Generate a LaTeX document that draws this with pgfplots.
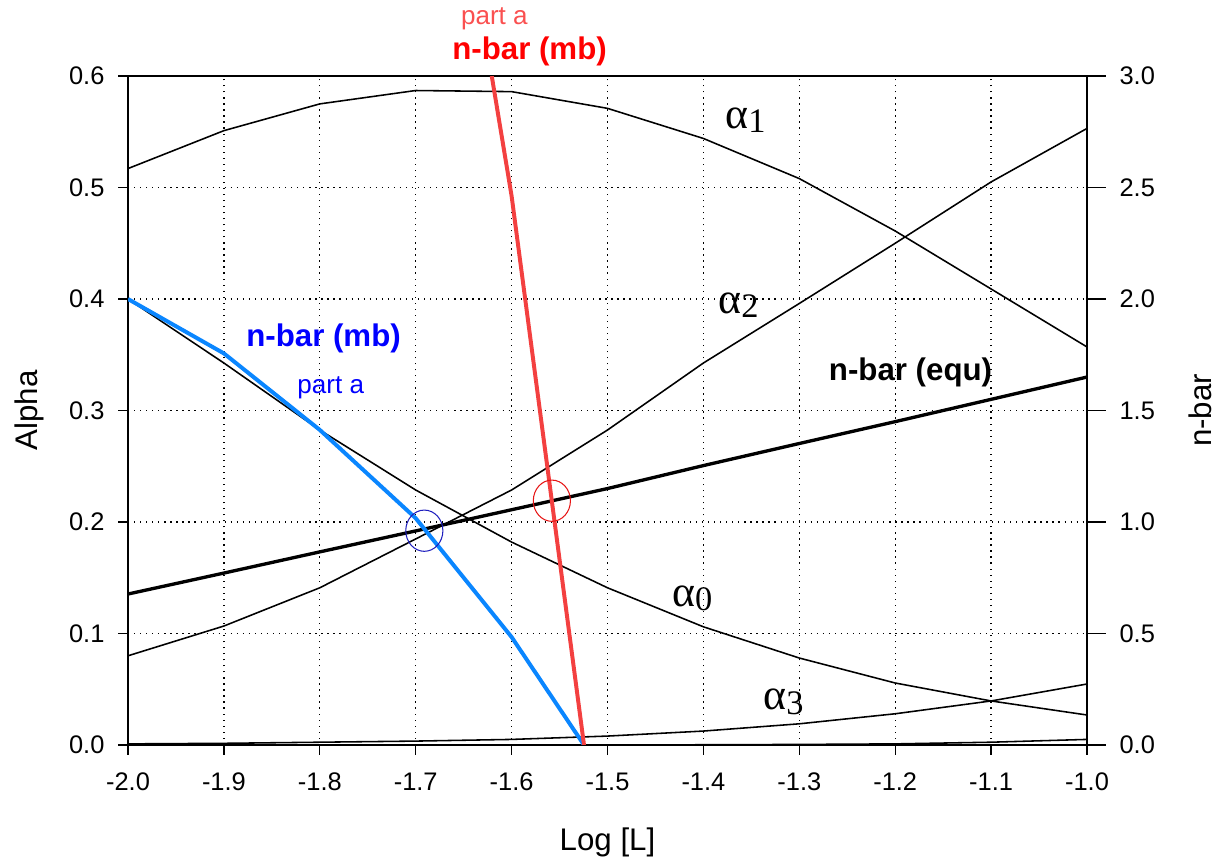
\documentclass[border=0pt]{standalone}
\usepackage{fontspec}
\setmainfont{Liberation Sans}
\newfontfamily\greekfont{Liberation Serif}
\usepackage{pgfplots}
\pgfplotsset{compat=1.18}

\definecolor{redline}{RGB}{243,64,64}
\definecolor{blueline}{RGB}{10,134,255}
\definecolor{bluetext}{RGB}{0,0,255}
\definecolor{navycirc}{RGB}{30,30,190}
\definecolor{redcirc}{RGB}{230,20,20}
\definecolor{redpart}{RGB}{250,80,80}

% 1 px of the reference = 0.48pt
\newcommand{\alab}[1]{{\greekfont\fontsize{21}{21}\selectfont α\raisebox{-2pt}{\fontsize{16.5}{16.5}\selectfont #1}}}

\pgfplotsset{
  common/.style={
    scale only axis, width=460.3pt, height=321.1pt,
    xmin=-2, xmax=-1,
    tick align=outside,
    tick style={black, line width=0.6pt},
    axis line style={line width=0.6pt},
    tick label style={font=\fontsize{12.2}{14}\selectfont},
    label style={font=\fontsize{15}{18}\selectfont},
    /pgf/number format/fixed,
    /pgf/number format/fixed zerofill,
    /pgf/number format/precision=1,
    /pgf/number format/assume math mode=true,
  },
}

\begin{document}
\begin{tikzpicture}
\begin{axis}[
  common,
  ymin=0, ymax=0.6,
  xtick={-2.0,-1.9,-1.8,-1.7,-1.6,-1.5,-1.4,-1.3,-1.2,-1.1,-1.0},
  ytick={0,0.1,0.2,0.3,0.4,0.5,0.6},
  xtick pos=bottom, ytick pos=left,
  major tick length=4.8pt,
  xticklabel style={yshift=-5pt},
  yticklabel style={xshift=-3pt},
  grid=major,
  major grid style={black, line width=0.6pt, dash pattern=on 0.6pt off 2.3pt},
  xlabel={Log [L]}, ylabel={Alpha},
  xlabel style={at={(axis description cs:0.5,-0.146)}, anchor=center},
  ylabel style={at={(axis description cs:-0.1027,0.5)}, anchor=center},
  clip=false,
]
  % alpha 1
  \addplot[black, line width=0.75pt] coordinates {
    (-2.0,0.517) (-1.9,0.551) (-1.8,0.575) (-1.7,0.587) (-1.6,0.586)
    (-1.5,0.571) (-1.4,0.544) (-1.3,0.508) (-1.2,0.461) (-1.1,0.409) (-1.0,0.357)
  };
  % alpha 2
  \addplot[black, line width=0.75pt] coordinates {
    (-2.0,0.080) (-1.9,0.1067) (-1.8,0.141) (-1.7,0.1848) (-1.6,0.2287)
    (-1.5,0.2825) (-1.4,0.3426) (-1.3,0.396) (-1.2,0.450) (-1.1,0.505) (-1.0,0.553)
  };
  % alpha 0
  \addplot[black, line width=0.75pt] coordinates {
    (-2.0,0.400) (-1.9,0.3426) (-1.8,0.2825) (-1.7,0.2287) (-1.6,0.182)
    (-1.5,0.141) (-1.4,0.106) (-1.3,0.078) (-1.2,0.0556) (-1.1,0.0395) (-1.0,0.0269)
  };
  % alpha 3
  \addplot[black, line width=0.75pt] coordinates {
    (-2.0,0.001) (-1.9,0.0015) (-1.8,0.0025) (-1.7,0.0035) (-1.6,0.005)
    (-1.5,0.008) (-1.4,0.0125) (-1.3,0.019) (-1.2,0.028) (-1.1,0.0395) (-1.0,0.0547)
  };
  % alpha 4
  \addplot[black, line width=0.75pt] coordinates {
    (-2.0,0.0) (-1.9,0.0) (-1.8,0.0) (-1.7,0.0) (-1.6,0.0)
    (-1.5,0.0001) (-1.4,0.0002) (-1.3,0.0005) (-1.2,0.001) (-1.1,0.0025) (-1.0,0.005)
  };

  \node[anchor=base west, inner sep=0pt] at (axis cs:-1.3775,0.5529) {\alab{1}};
  \node[anchor=base west, inner sep=0pt] at (axis cs:-1.3848,0.3874) {\alab{2}};
  \node[anchor=base west, inner sep=0pt] at (axis cs:-1.4331,0.1240) {\alab{0}};
  \node[anchor=base west, inner sep=0pt] at (axis cs:-1.3379,0.0314) {\alab{3}};

  \node[redpart, font=\fontsize{12.5}{14}\selectfont] at (axis cs:-1.618,0.651) {part a};
  \node[red, font=\fontsize{15}{18}\bfseries] at (axis cs:-1.5813,0.6224) {n-bar (mb)};
  \node[bluetext, font=\fontsize{15}{18}\bfseries] at (axis cs:-1.7961,0.3646) {n-bar (mb)};
  \node[bluetext, font=\fontsize{12.5}{14}\selectfont] at (axis cs:-1.7886,0.3206) {part a};
  \node[black, font=\fontsize{15}{18}\bfseries] at (axis cs:-1.184,0.3345) {n-bar (equ)};
\end{axis}

\begin{axis}[
  common,
  ymin=0, ymax=3,
  axis x line=none, axis y line*=right,
  y axis line style={-},
  ytick={0,0.5,1.0,1.5,2.0,2.5,3.0},
  major tick length=9.1pt,
  yticklabel style={xshift=3pt},
  ylabel={n-bar},
  ylabel style={at={(axis description cs:1.1178,0.5)}, anchor=center},
]
  % n-bar (equ)
  \addplot[black, line width=1.6pt] coordinates {
    (-2.0,0.677) (-1.9,0.771) (-1.8,0.866) (-1.7,0.960) (-1.6,1.055)
    (-1.5,1.150) (-1.4,1.253) (-1.3,1.352) (-1.2,1.450) (-1.1,1.550) (-1.0,1.650)
  };
  % n-bar (mb) part a, blue
  \addplot[blueline, line width=1.9pt] coordinates {
    (-2.0,2.0) (-1.9,1.756) (-1.8,1.413) (-1.7,1.017) (-1.6,0.484) (-1.5245,0.0)
  };
  % n-bar (mb) part a, red
  \addplot[redline, line width=1.9pt] coordinates {
    (-1.6207,3.0) (-1.6,2.462) (-1.5245,0.0)
  };
  % circled crossings
  \addplot[only marks, mark=o, mark size=9.9pt,
    mark options={draw=navycirc, line width=0.5pt, xscale=0.9}] coordinates {(-1.691,0.961)};
  \addplot[only marks, mark=o, mark size=9.9pt,
    mark options={draw=redcirc, line width=0.5pt, xscale=0.9}] coordinates {(-1.558,1.0955)};
\end{axis}

\pgfresetboundingbox
\path (-61.44pt,-58.56pt) rectangle (524.62pt,357.58pt);
\end{tikzpicture}
\end{document}
